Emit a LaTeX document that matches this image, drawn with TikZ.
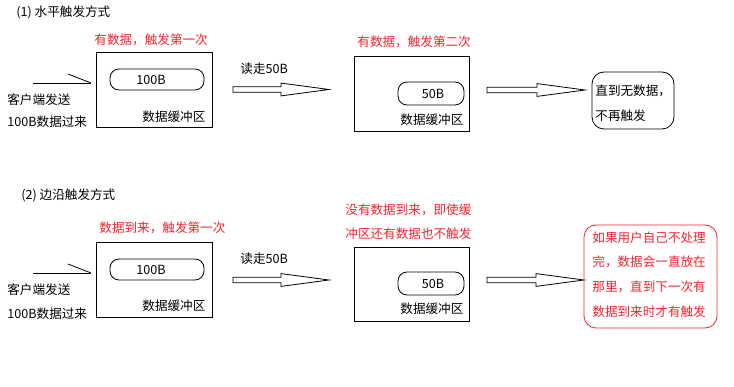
\documentclass[tikz,border=0pt]{standalone}
\usepackage{fontspec}
\setmainfont{Noto Sans CJK SC}
\usetikzlibrary{calc}
\definecolor{tred}{RGB}{250,35,45}
\newcommand\holarrow[2]{%
  \draw[line width=0.8pt] ($(#1)+(0,-2.8)$) -- ($(#2)+(-48,-2.8)$) -- ($(#2)+(-48,-6.4)$) -- (#2)
     -- ($(#2)+(-48,6.4)$) -- ($(#2)+(-48,2.8)$) -- ($(#1)+(0,2.8)$) -- cycle;}
\begin{document}
\begin{tikzpicture}[x=1pt,y=-1pt,line width=0.8pt,
  txt/.style={anchor=west,inner sep=0pt,font=\fontsize{12.6pt}{15pt}\selectfont},
  rtxt/.style={txt,text=tred},
  ctxt/.style={inner sep=0pt,font=\fontsize{12.6pt}{15pt}\selectfont},
  bufbox/.style={draw,inner sep=0pt,minimum width=116pt,minimum height=75pt},
  pill/.style={draw,rounded corners=9pt,inner sep=0pt},
  endbox/.style={draw,rounded corners=12pt,inner sep=0pt}]
\useasboundingbox (0,0) rectangle (734,387);
\fill[white] (0,0) rectangle (734,387);

% ---------- (1) level triggered ----------
\node[txt] (t1) at (16,12) {(1) 水平触发方式};
\node[rtxt] (r1) at (94,40) {有数据，触发第一次};
\node[bufbox] (b1) at (154,89.5) {};
\node[pill,minimum width=94pt,minimum height=21pt] (p1) at (157,79.5) {};
\node[ctxt] (v1) at (151,80) {100B};
\node[txt] (l1) at (142,117) {数据缓冲区};
\node[txt] (c1) at (7,100) {客户端发送};
\node[txt] (d1) at (7,122) {100B数据过来};
\coordinate (in1s) at (33,83);
\coordinate (in1e) at (91,83);
\coordinate (in1d) at (68,74);
\draw (in1s) -- (in1e);
\draw (in1d) -- (in1e);
\node[txt] (rd1) at (240,69) {读走50B};
\coordinate (a1s) at (233,89.5);
\coordinate (a1t) at (329,89.5);
\holarrow{a1s}{a1t}
\node[rtxt] (r2) at (357,42) {有数据，触发第二次};
\node[bufbox,minimum width=115pt] (b2) at (411.5,93.5) {};
\node[pill,minimum width=66pt,minimum height=23pt] (p2) at (431,93.5) {};
\node[ctxt] (v2) at (433,94) {50B};
\node[txt] (l2) at (400,120) {数据缓冲区};
\coordinate (a2s) at (487,90);
\coordinate (a2t) at (585,90);
\holarrow{a2s}{a2t}
\node[endbox,minimum width=82pt,minimum height=57pt] (e1) at (633,100.5) {};
\node[txt] (e1a) at (595,91) {直到无数据，};
\node[txt] (e1b) at (595,116) {不再触发};

% ---------- (2) edge triggered ----------
\node[txt] (t2) at (21,195) {(2) 边沿触发方式};
\node[rtxt] (r3) at (99,228) {数据到来，触发第一次};
\node[bufbox] (b3) at (154,279.5) {};
\node[pill,minimum width=94pt,minimum height=21pt] (p3) at (157,269.5) {};
\node[ctxt] (v3) at (151,270) {100B};
\node[txt] (l3) at (142,306) {数据缓冲区};
\node[txt] (c3) at (7,290) {客户端发送};
\node[txt] (d3) at (7,314) {100B数据过来};
\coordinate (in3s) at (33,273);
\coordinate (in3e) at (91,273);
\coordinate (in3d) at (68,264);
\draw (in3s) -- (in3e);
\draw (in3d) -- (in3e);
\node[txt] (rd3) at (240,259) {读走50B};
\coordinate (a3s) at (233,280);
\coordinate (a3t) at (329,280);
\holarrow{a3s}{a3t}
\node[rtxt] (r4a) at (345,210) {没有数据到来，即使缓};
\node[rtxt] (r4b) at (345,234) {冲区还有数据也不触发};
\node[bufbox,minimum width=115pt,minimum height=74pt] (b4) at (411.5,284) {};
\node[pill,minimum width=66pt,minimum height=23pt] (p4) at (431,283.5) {};
\node[ctxt] (v4) at (433,284) {50B};
\node[txt] (l4) at (400,309) {数据缓冲区};
\coordinate (a4s) at (487,280);
\coordinate (a4t) at (584,280);
\holarrow{a4s}{a4t}
\node[endbox,draw=tred,minimum width=133pt,minimum height=103pt] (e2) at (650.5,276.5) {};
\node[rtxt] (e2a) at (592,238) {如果用户自己不处理};
\node[rtxt] (e2b) at (592,262) {完，数据会一直放在};
\node[rtxt] (e2c) at (592,287) {那里，直到下一次有};
\node[rtxt] (e2d) at (592,312) {数据到来时才有触发};
\end{tikzpicture}
\end{document}
